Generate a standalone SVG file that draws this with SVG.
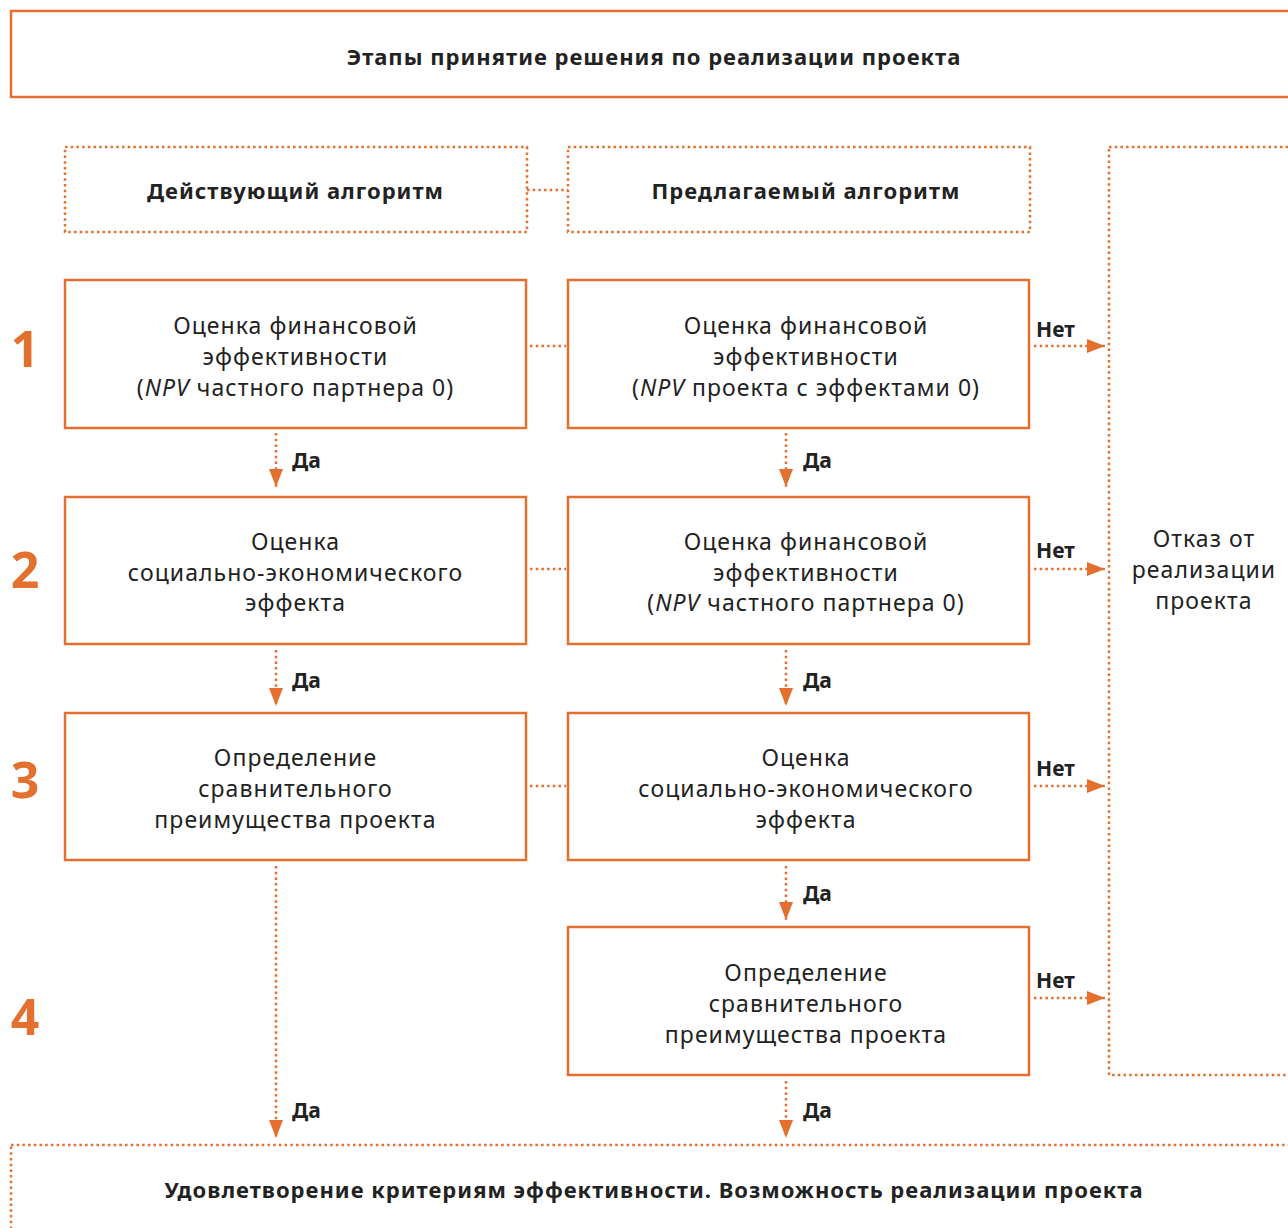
<svg xmlns="http://www.w3.org/2000/svg" width="1288" height="1228" viewBox="0 0 1288 1228">
<style>
.box{fill:#fff;stroke:#E3702E;stroke-width:2.5}
.dbox{fill:none;stroke:#E3702E;stroke-width:2.5;stroke-dasharray:2.5 3.2}
.dl{fill:none;stroke:#E3702E;stroke-width:2.5;stroke-dasharray:2.5 3.2}
.t{font-family:"Noto Sans","DejaVu Sans",sans-serif;font-size:23px;fill:#222;text-anchor:middle;letter-spacing:1.05px}
.b{font-family:"Noto Sans","DejaVu Sans",sans-serif;font-size:22px;font-weight:bold;fill:#222;text-anchor:middle;letter-spacing:1px}
.l{font-family:"Noto Sans","DejaVu Sans",sans-serif;font-size:21px;font-weight:bold;fill:#222}
.n{font-family:"Noto Sans","DejaVu Sans",sans-serif;font-size:50px;font-weight:bold;fill:#E3702E;text-anchor:middle}
</style>
<defs>
<marker id="ah" markerUnits="userSpaceOnUse" markerWidth="18" markerHeight="14" refX="18" refY="7" orient="auto">
<path d="M0,0 L18,7 L0,14 Z" fill="#E3702E"/>
</marker>
</defs>
<g id="title">
<rect class="box" x="11" y="11" width="1290" height="86"/>
<text class="b" x="654" y="65">Этапы принятие решения по реализации проекта</text>
</g>
<g id="hdr-current">
<rect class="dbox" x="65" y="147" width="462" height="85"/>
<text class="b" x="295.5" y="199">Действующий алгоритм</text>
</g>
<g id="hdr-proposed">
<rect class="dbox" x="568" y="147" width="462" height="85"/>
<text class="b" x="806" y="199">Предлагаемый алгоритм</text>
</g>
<g id="reject">
<rect class="dbox" x="1109" y="147" width="200" height="928"/>
<text class="t" x="1204" y="547">Отказ от</text>
<text class="t" x="1204" y="578">реализации</text>
<text class="t" x="1204" y="609">проекта</text>
</g>
<g id="numbers">
<text class="n" x="25" y="367">1</text>
<text class="n" x="25" y="588">2</text>
<text class="n" x="25" y="798">3</text>
<text class="n" x="25" y="1035">4</text>
</g>
<g id="c1">
<rect class="box" x="65" y="280" width="461" height="148"/>
<text class="t" x="295.5" y="334">Оценка финансовой</text>
<text class="t" x="295.5" y="365">эффективности</text>
<text class="t" x="295.5" y="396">(<tspan font-style="italic">NPV</tspan> частного партнера 0)</text>
</g>
<g id="c2">
<rect class="box" x="65" y="497" width="461" height="147"/>
<text class="t" x="295.5" y="550">Оценка</text>
<text class="t" x="295.5" y="581">социально-экономического</text>
<text class="t" x="295.5" y="611">эффекта</text>
</g>
<g id="c3">
<rect class="box" x="65" y="713" width="461" height="147"/>
<text class="t" x="295.5" y="766">Определение</text>
<text class="t" x="295.5" y="797">сравнительного</text>
<text class="t" x="295.5" y="828">преимущества проекта</text>
</g>
<g id="p1">
<rect class="box" x="568" y="280" width="461" height="148"/>
<text class="t" x="806" y="334">Оценка финансовой</text>
<text class="t" x="806" y="365">эффективности</text>
<text class="t" x="806" y="396">(<tspan font-style="italic">NPV</tspan> проекта с эффектами 0)</text>
</g>
<g id="p2">
<rect class="box" x="568" y="497" width="461" height="147"/>
<text class="t" x="806" y="550">Оценка финансовой</text>
<text class="t" x="806" y="581">эффективности</text>
<text class="t" x="806" y="611">(<tspan font-style="italic">NPV</tspan> частного партнера 0)</text>
</g>
<g id="p3">
<rect class="box" x="568" y="713" width="461" height="147"/>
<text class="t" x="806" y="766">Оценка</text>
<text class="t" x="806" y="797">социально-экономического</text>
<text class="t" x="806" y="828">эффекта</text>
</g>
<g id="p4">
<rect class="box" x="568" y="927" width="461" height="148"/>
<text class="t" x="806" y="981">Определение</text>
<text class="t" x="806" y="1012">сравнительного</text>
<text class="t" x="806" y="1043">преимущества проекта</text>
</g>
<g id="result">
<rect class="dbox" x="11" y="1145" width="1290" height="100"/>
<text class="b" x="654" y="1198">Удовлетворение критериям эффективности. Возможность реализации проекта</text>
</g>
<g id="connectors">
<line class="dl" x1="527" y1="190" x2="568" y2="190"/>
<line class="dl" x1="530" y1="346" x2="566" y2="346"/>
<line class="dl" x1="530" y1="569" x2="566" y2="569"/>
<line class="dl" x1="530" y1="786" x2="566" y2="786"/>
<line class="dl" x1="276" y1="433" x2="276" y2="487" marker-end="url(#ah)"/>
<line class="dl" x1="276" y1="650" x2="276" y2="706" marker-end="url(#ah)"/>
<line class="dl" x1="276" y1="866" x2="276" y2="1138" marker-end="url(#ah)"/>
<line class="dl" x1="786" y1="433" x2="786" y2="487" marker-end="url(#ah)"/>
<line class="dl" x1="786" y1="650" x2="786" y2="706" marker-end="url(#ah)"/>
<line class="dl" x1="786" y1="866" x2="786" y2="920" marker-end="url(#ah)"/>
<line class="dl" x1="786" y1="1081" x2="786" y2="1138" marker-end="url(#ah)"/>
<line class="dl" x1="1034" y1="346" x2="1105" y2="346" marker-end="url(#ah)"/>
<line class="dl" x1="1034" y1="569" x2="1105" y2="569" marker-end="url(#ah)"/>
<line class="dl" x1="1034" y1="786" x2="1105" y2="786" marker-end="url(#ah)"/>
<line class="dl" x1="1034" y1="998" x2="1105" y2="998" marker-end="url(#ah)"/>
<text class="l" x="292" y="468">Да</text>
<text class="l" x="292" y="688">Да</text>
<text class="l" x="292" y="1118">Да</text>
<text class="l" x="803" y="468">Да</text>
<text class="l" x="803" y="688">Да</text>
<text class="l" x="803" y="901">Да</text>
<text class="l" x="803" y="1118">Да</text>
<text class="l" x="1036" y="337">Нет</text>
<text class="l" x="1036" y="558">Нет</text>
<text class="l" x="1036" y="776">Нет</text>
<text class="l" x="1036" y="988">Нет</text>
</g>
</svg>
